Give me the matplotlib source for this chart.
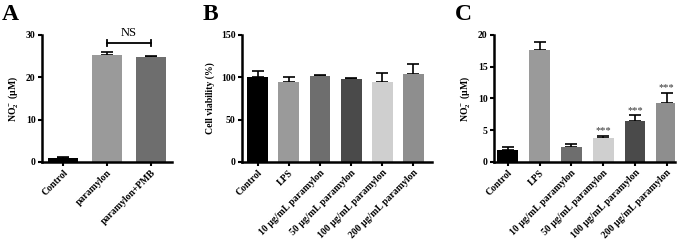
import numpy as np
import matplotlib.pyplot as plt

plt.rcParams['font.family'] = ['Liberation Serif', 'DejaVu Serif']
plt.rcParams['font.weight'] = 'bold'
plt.rcParams['mathtext.fontset'] = 'custom'
plt.rcParams['mathtext.rm'] = 'Liberation Serif:bold'
plt.rcParams['mathtext.it'] = 'Liberation Serif:bold'
plt.rcParams['mathtext.bf'] = 'Liberation Serif:bold'

# Panel A data
a_labels = ['Control', 'paramylon', 'paramylon+PMB']
a_vals = [1.0, 25.3, 24.8]
a_err = [0.2, 0.7, 0.3]
a_colors = ['#000000', '#9a9a9a', '#6e6e6e']

# Panel B data
b_labels = ['Control', 'LPS', '10 μg/mL paramylon', '50 μg/mL paramylon',
            '100 μg/mL paramylon', '200 μg/mL paramylon']
b_vals = [100, 94, 101, 98, 95, 104]
b_err = [7, 6, 2, 1, 10, 12]
b_colors = ['#000000', '#9a9a9a', '#6e6e6e', '#4a4a4a', '#cfcfcf', '#8e8e8e']

# Panel C data
c_labels = b_labels
c_vals = [1.9, 17.7, 2.3, 3.8, 6.4, 9.3]
c_err = [0.4, 1.2, 0.6, 0.3, 1.0, 1.6]
c_colors = ['#000000', '#9a9a9a', '#6e6e6e', '#cfcfcf', '#4a4a4a', '#8e8e8e']
c_marks = ['', '', '', '***', '***', '***']

NO2 = r'NO$_2^-$ (μM)'
FS = 7


def style_axes(ax):
    for s in ['top', 'right']:
        ax.spines[s].set_visible(False)
    for s in ['left', 'bottom']:
        ax.spines[s].set_linewidth(1.8)
    ax.tick_params(axis='both', width=1.5, length=3, labelsize=FS, pad=1.5)
    for t in ax.get_yticklabels():
        t.set_fontweight('bold')


def draw_bars(ax, labels, vals, err, colors, width):
    x = np.arange(len(vals))
    ax.bar(x, vals, width=width, color=colors, zorder=2)
    ax.errorbar(x, vals, yerr=[np.zeros(len(err)), err], fmt='none',
                ecolor='black', elinewidth=1.2, capsize=4.5, capthick=1.2, zorder=1)
    ax.set_xticks(x)
    ax.set_xticklabels(labels, rotation=45, ha='right', rotation_mode='anchor',
                       fontsize=FS, fontweight='bold')
    return x


fig = plt.figure(figsize=(6.85, 2.41), dpi=100)

# A
axA = fig.add_axes([0.0613, 0.328, 0.190, 0.527])
draw_bars(axA, a_labels, a_vals, a_err, a_colors, 0.7)
axA.set_xlim(-0.48, 2.48)
axA.set_ylim(0, 30)
axA.set_yticks([0, 10, 20, 30])
axA.set_ylabel(NO2, fontsize=FS, fontweight='bold', labelpad=4)
style_axes(axA)
axA.plot([1, 2], [28, 28], color='black', lw=1.3, clip_on=False)
axA.plot([1, 1], [27.3, 28.7], color='black', lw=1.3, clip_on=False)
axA.plot([2, 2], [27.3, 28.7], color='black', lw=1.3, clip_on=False)
axA.text(1.5, 29, 'NS', ha='center', va='bottom', fontsize=9, fontweight='normal')
fig.text(0.003, 0.985, 'A', fontsize=17, fontweight='bold', va='top')

# B
axB = fig.add_axes([0.353, 0.328, 0.277, 0.527])
draw_bars(axB, b_labels, b_vals, b_err, b_colors, 0.67)
axB.set_xlim(-0.51, 5.58)
axB.set_ylim(0, 150)
axB.set_yticks([0, 50, 100, 150])
axB.set_ylabel('Cell viability (%)', fontsize=FS, fontweight='bold', labelpad=4)
style_axes(axB)
fig.text(0.296, 0.985, 'B', fontsize=17, fontweight='bold', va='top')

# C
axC = fig.add_axes([0.721, 0.328, 0.264, 0.527])
xc = draw_bars(axC, c_labels, c_vals, c_err, c_colors, 0.66)
axC.set_xlim(-0.44, 5.25)
axC.set_ylim(0, 20)
axC.set_yticks([0, 5, 10, 15, 20])
axC.set_ylabel(NO2, fontsize=FS, fontweight='bold', labelpad=4)
style_axes(axC)
for xi, v, e, m in zip(xc, c_vals, c_err, c_marks):
    if m:
        axC.text(xi, v + e + 0.05, m, ha='center', va='bottom', fontsize=7.5,
                 fontweight='normal', color='#333333')
fig.text(0.664, 0.985, 'C', fontsize=17, fontweight='bold', va='top')

fig.savefig('out.png', dpi=100)
